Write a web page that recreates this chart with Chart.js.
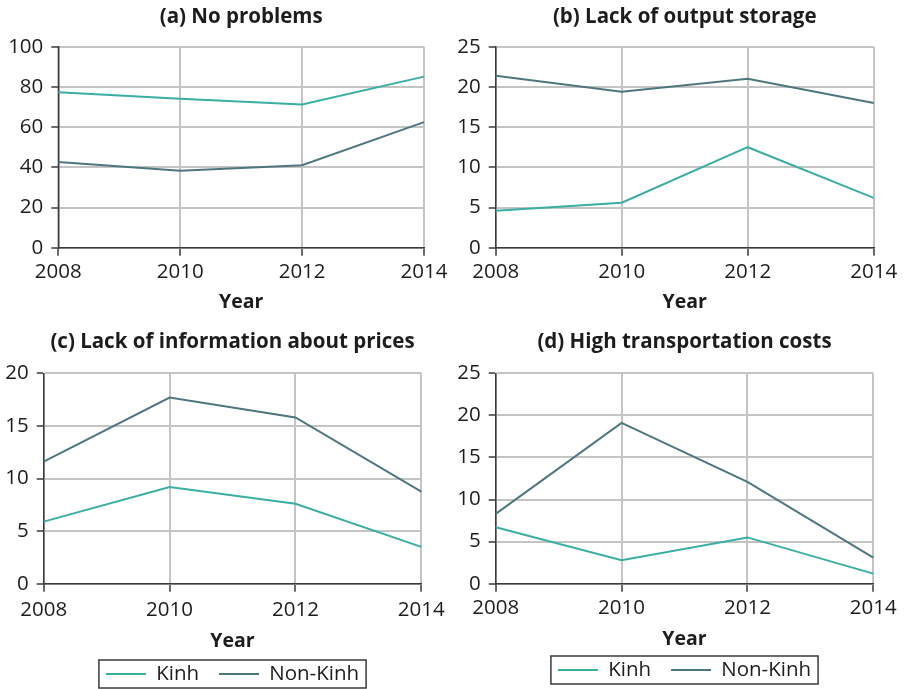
<!DOCTYPE html>
<html>
<head>
<meta charset="utf-8">
<script src="https://cdn.jsdelivr.net/npm/chart.js@4.4.1/dist/chart.umd.min.js"></script>
<style>
  html, body { margin: 0; padding: 0; background: #ffffff; }
  #wrap { position: relative; width: 906px; height: 689px; overflow: hidden; }
  .cell { position: absolute; }
</style>
</head>
<body>
<div id="wrap">
  <div class="cell" style="left:0;top:0;width:453px;height:322px"><canvas id="chartA"></canvas></div>
  <div class="cell" style="left:453px;top:0;width:453px;height:322px"><canvas id="chartB"></canvas></div>
  <div class="cell" style="left:0;top:322px;width:453px;height:367px"><canvas id="chartC"></canvas></div>
  <div class="cell" style="left:453px;top:322px;width:453px;height:367px"><canvas id="chartD"></canvas></div>
</div>
<script>
// Survey years and group names
const years = ['2008', '2010', '2012', '2014'];
const groupNames = ['Kinh', 'Non-Kinh'];

// (a) No problems (%)
const noProblemsKinh = [77.3, 74.1, 71.3, 85.1];
const noProblemsNonKinh = [42.6, 38.3, 41.0, 62.5];

// (b) Lack of output storage (%)
const storageKinh = [4.6, 5.6, 12.5, 6.2];
const storageNonKinh = [21.4, 19.4, 21.0, 18.0];

// (c) Lack of information about prices (%)
const priceInfoKinh = [5.9, 9.2, 7.6, 3.5];
const priceInfoNonKinh = [11.6, 17.7, 15.8, 8.75];

// (d) High transportation costs (%)
const transportKinh = [6.7, 2.8, 5.5, 1.2];
const transportNonKinh = [8.3, 19.1, 12.1, 3.1];

const FONT = "'Open Sans', 'Liberation Sans', sans-serif";
const TEXT = '#1c1c1c';
const KINH_COLOR = '#3aaea3';
const NONKINH_COLOR = '#4e767d';
const GRID = '#c4c4c4';
const AXIS = '#3a3a3a';

// Draws a thin frame round the legend entries
const legendFrame = {
  id: 'legendFrame',
  afterDraw(chart) {
    const lg = chart.legend;
    if (!lg || !lg.options.display || !lg.legendHitBoxes.length) return;
    const boxes = lg.legendHitBoxes;
    let l = Infinity, r = -Infinity, cy = 0;
    boxes.forEach(b => {
      l = Math.min(l, b.left);
      r = Math.max(r, b.left + b.width);
      cy += b.top + b.height / 2;
    });
    cy /= boxes.length;
    const ctx = chart.ctx;
    ctx.save();
    ctx.strokeStyle = AXIS;
    ctx.lineWidth = 1.5;
    ctx.strokeRect(l - 7, cy - 14, (r - l) + 14, 28);
    ctx.restore();
  }
};

function makeChart(id, titleText, kinh, nonKinh, yMax, yStep, g) {
  const datasets = [
    { label: groupNames[0], data: kinh, borderColor: KINH_COLOR, backgroundColor: KINH_COLOR },
    { label: groupNames[1], data: nonKinh, borderColor: NONKINH_COLOR, backgroundColor: NONKINH_COLOR }
  ].map(d => Object.assign(d, { borderWidth: 2, pointRadius: 0, tension: 0, fill: false }));

  return new Chart(document.getElementById(id), {
    type: 'line',
    data: { labels: years, datasets },
    plugins: [legendFrame],
    options: {
      responsive: true,
      maintainAspectRatio: false,
      animation: false,
      events: [],
      layout: { padding: g.padding },
      plugins: {
        tooltip: { enabled: false },
        title: {
          display: true,
          text: titleText,
          fullSize: false,
          color: TEXT,
          font: { family: FONT, size: 20.5, weight: 'bold', lineHeight: 1.2 },
          padding: g.titlePad
        },
        legend: {
          display: g.legend,
          position: 'bottom',
          fullSize: false,
          maxHeight: g.legendHeight,
          labels: {
            color: TEXT,
            font: { family: FONT, size: 20.5 },
            boxWidth: 40,
            boxHeight: 2,
            padding: 20,
            generateLabels(chart) {
              return Chart.defaults.plugins.legend.labels.generateLabels(chart).map(it => {
                it.lineWidth = 0;
                it.fillStyle = it.strokeStyle;
                return it;
              });
            }
          }
        }
      },
      scales: {
        x: {
          type: 'category',
          offset: false,
          afterFit(s) { s.height = g.xHeight; },
          grid: { color: GRID, lineWidth: 2, tickLength: 8, tickColor: AXIS, tickWidth: 1.5 },
          border: { color: AXIS, width: 1.5 },
          ticks: { color: TEXT, font: { family: FONT, size: 20.5 }, padding: g.xTickPad, maxRotation: 0, autoSkip: false },
          title: {
            display: true,
            text: 'Year',
            color: TEXT,
            font: { family: FONT, size: 19.5, weight: 'bold', lineHeight: 1.2 },
            padding: { top: 0, bottom: g.yearPadBottom }
          }
        },
        y: {
          min: 0,
          max: yMax,
          afterFit(s) { s.width = g.yWidth; },
          grid: { color: GRID, lineWidth: 2, tickLength: 7, tickColor: AXIS, tickWidth: 1.5 },
          border: { color: AXIS, width: 1.5 },
          ticks: { stepSize: yStep, color: TEXT, font: { family: FONT, size: 20.5 }, padding: 8 }
        }
      }
    }
  });
}

makeChart('chartA', '(a) No problems', noProblemsKinh, noProblemsNonKinh, 100, 20, {
  padding: { left: 0, right: 29, top: 0, bottom: 8.3 },
  titlePad: { top: 4.7, bottom: 17.4 },
  yWidth: 58.3, xHeight: 66, xTickPad: 4, yearPadBottom: 0, legend: false
});
makeChart('chartB', '(b) Lack of output storage', storageKinh, storageNonKinh, 25, 5, {
  padding: { left: 0, right: 32.3, top: 0, bottom: 8.3 },
  titlePad: { top: 4.7, bottom: 17.4 },
  yWidth: 42.7, xHeight: 66, xTickPad: 4, yearPadBottom: 0, legend: false
});
makeChart('chartC', '(c) Lack of information about prices', priceInfoKinh, priceInfoNonKinh, 20, 5, {
  padding: { left: 0, right: 31.7, top: 0, bottom: 0 },
  titlePad: { top: 7.4, bottom: 19.3 },
  yWidth: 43.7, xHeight: 60.05, xTickPad: 6, yearPadBottom: -9.35, legend: true, legendHeight: 45.25
});
makeChart('chartD', '(d) High transportation costs', transportKinh, transportNonKinh, 25, 5, {
  padding: { left: 0, right: 32.7, top: 0, bottom: 0 },
  titlePad: { top: 7.4, bottom: 19.3 },
  yWidth: 42.7, xHeight: 56.05, xTickPad: 4.3, yearPadBottom: -11.65, legend: true, legendHeight: 49.25
});
</script>
</body>
</html>
